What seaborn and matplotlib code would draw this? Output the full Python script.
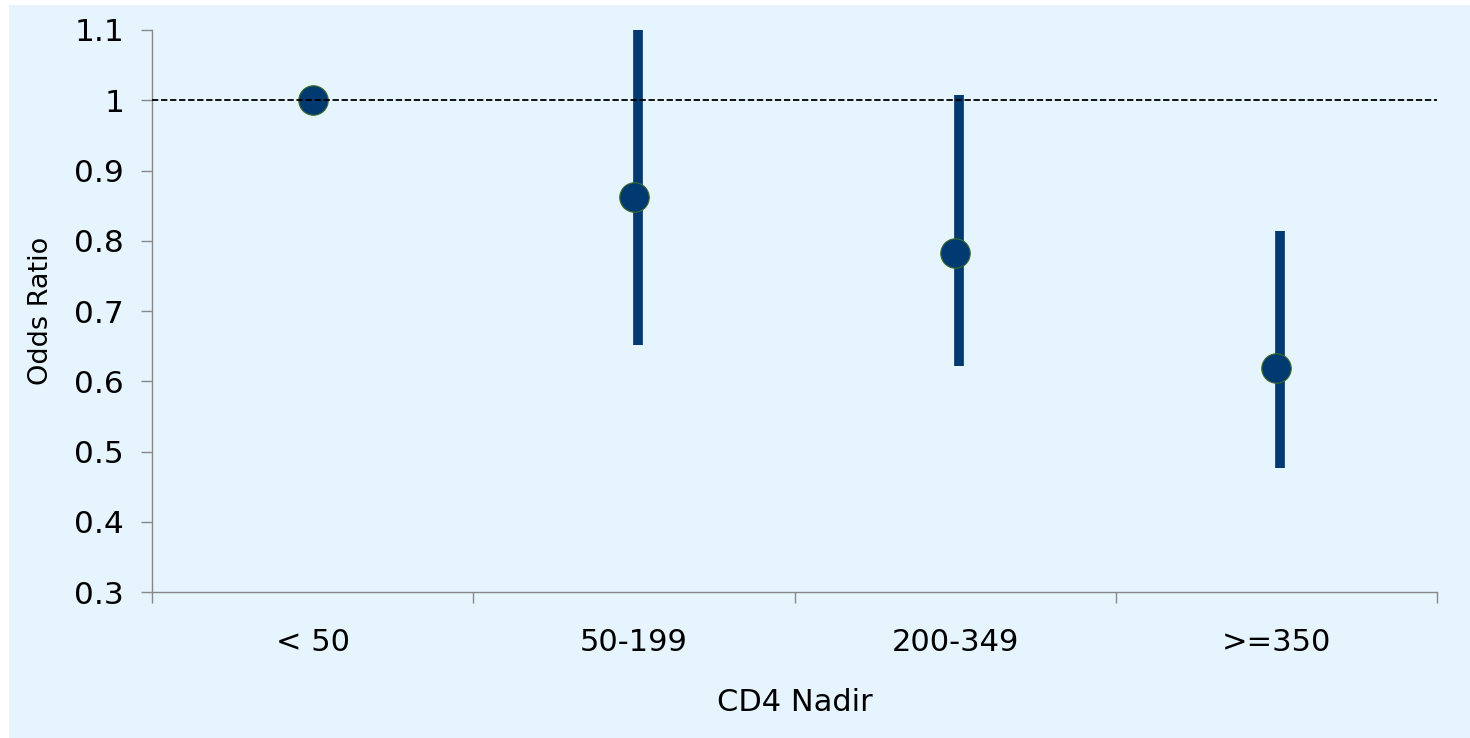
import matplotlib
matplotlib.use("Agg")
import matplotlib.pyplot as plt
import seaborn as sns
import pandas as pd
from matplotlib.patches import Rectangle

categories = ["< 50", "50-199", "200-349", ">=350"]
odds_ratio = [1.0, 0.862, 0.782, 0.619]
ci_low = [None, 0.652, 0.622, 0.476]
ci_high = [None, 1.10, 1.008, 0.814]
y_ticks = [0.3, 0.4, 0.5, 0.6, 0.7, 0.8, 0.9, 1.0, 1.1]
y_tick_labels = ["0.3", "0.4", "0.5", "0.6", "0.7", "0.8", "0.9", "1", "1.1"]

df = pd.DataFrame({"cat": categories, "or": odds_ratio, "lo": ci_low, "hi": ci_high})

sns.set_theme(style="white")
plt.rcParams["font.family"] = ["DejaVu Sans"]
plt.rcParams["text.color"] = "black"
plt.rcParams["axes.labelcolor"] = "black"
plt.rcParams["xtick.color"] = "black"
plt.rcParams["ytick.color"] = "black"

bg = "#E6F4FD"
navy = "#003A70"
spine = "#888888"

fig = plt.figure(figsize=(14.7, 7.38), dpi=100, facecolor="white")
fig.patches.append(Rectangle((9 / 1470, 0), 1 - 9 / 1470, 1 - 5 / 738,
                             transform=fig.transFigure, facecolor=bg,
                             edgecolor="none", zorder=-10))
ax = fig.add_axes([152 / 1470, 1 - 592 / 738, (1437 - 152) / 1470, (592 - 30) / 738])
ax.set_facecolor(bg)

# error bars
err = df.dropna()
pos = {c: i for i, c in enumerate(categories)}
ax.vlines([pos[c] + 0.012 for c in err["cat"]], err["lo"], err["hi"], color=navy, lw=7, zorder=2)

sns.scatterplot(data=df, x="cat", y="or", ax=ax, s=450, color=navy,
                edgecolor="#3d6b2a", linewidth=0.8, zorder=3, legend=False)

ax.axhline(1.0, color="black", lw=1.3, ls=(0, (3.5, 1.5)), zorder=4)

ax.set_xlim(-0.5, 3.5)
ax.set_ylim(0.3, 1.1)
ax.set_yticks(y_ticks)
ax.set_yticklabels(y_tick_labels, fontsize=22.5)
ax.set_xticks(range(len(categories)))
ax.set_xticklabels(categories, fontsize=22)
ax.set_xticks([-0.5, 0.5, 1.5, 2.5, 3.5], minor=True)
ax.tick_params(axis="x", which="major", length=0, pad=26, bottom=True)
ax.tick_params(axis="x", which="minor", length=8, width=1, color=spine,
               direction="out", bottom=True)
ax.tick_params(axis="y", length=8, width=1, color=spine, direction="out",
               pad=12, left=True)

for s in ["top", "right"]:
    ax.spines[s].set_visible(False)
for s in ["left", "bottom"]:
    ax.spines[s].set_color(spine)
    ax.spines[s].set_linewidth(1)

ax.set_ylabel("Odds Ratio", fontsize=19.5, labelpad=15)
ax.set_xlabel("CD4 Nadir", fontsize=22, labelpad=22)

fig.savefig("out.png", dpi=100, facecolor="white")
